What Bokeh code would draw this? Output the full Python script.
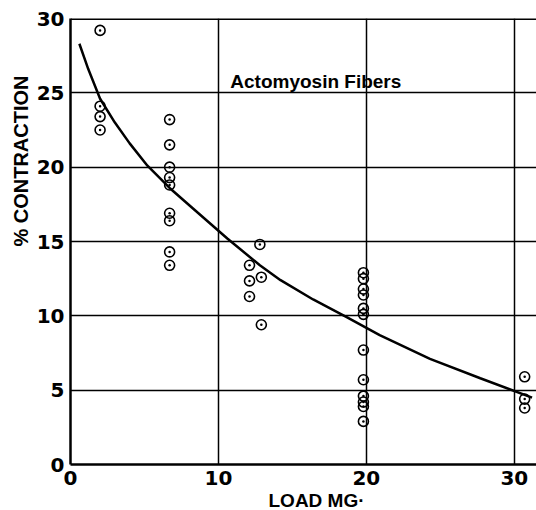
from bokeh.plotting import figure
from bokeh.models import Label, Span, FixedTicker, Range1d, Title
from bokeh.embed import file_html
from bokeh.resources import INLINE

# Measured points: load (mg) vs % contraction
load_mg = [2.0, 2.0, 2.0, 2.0,
           6.7, 6.7, 6.7, 6.7, 6.7, 6.7, 6.7, 6.7, 6.7,
           12.8, 12.1, 12.9, 12.1, 12.1, 12.9,
           19.8, 19.8, 19.8, 19.8, 19.8, 19.8, 19.8, 19.8, 19.8, 19.8, 19.8, 19.8,
           30.7, 30.7, 30.7]
contraction = [29.2, 24.1, 23.4, 22.5,
               23.2, 21.5, 20.0, 19.3, 18.8, 16.9, 16.4, 14.3, 13.4,
               14.8, 13.4, 12.6, 12.35, 11.3, 9.4,
               12.9, 12.5, 11.8, 11.4, 10.5, 10.1, 7.7, 5.7, 4.6, 4.2, 3.9, 2.9,
               5.9, 4.4, 3.8]

# Fitted curve
curve_x = [0.6, 1.2, 2.0, 3.0, 4.0, 5.2, 6.7, 8.3, 10.6, 12.8, 14.2, 16.4,
           18.7, 20.9, 24.3, 27.7, 31.2]
curve_y = [28.3, 26.6, 24.6, 23.0, 21.6, 20.1, 18.6, 17.2, 15.2, 13.4, 12.4, 11.1,
           9.9, 8.7, 7.1, 5.8, 4.5]

x_ticks = [0, 10, 20, 30]
y_ticks = [0, 5, 10, 15, 20, 25, 30]

p = figure(width=536, height=510, output_backend="svg", toolbar_location=None,
           x_range=Range1d(0, 31.5), y_range=Range1d(0, 30),
           min_border_left=70, min_border_right=0, min_border_top=18,
           min_border_bottom=45)
p.background_fill_color = "white"
p.border_fill_color = "white"
p.outline_line_color = None

tick_font = "DejaVu Sans"
for ax in (p.xaxis[0], p.yaxis[0]):
    ax.axis_line_color = "black"
    ax.axis_line_width = 2.5
    ax.major_tick_line_color = None
    ax.minor_tick_line_color = None
    ax.major_tick_out = 0
    ax.major_tick_in = 0
    ax.major_label_text_font = tick_font
    ax.major_label_text_font_style = "bold"
    ax.major_label_text_font_size = "20px"
    ax.major_label_text_color = "black"
p.xaxis[0].ticker = FixedTicker(ticks=x_ticks)
p.yaxis[0].ticker = FixedTicker(ticks=y_ticks)
p.xaxis[0].major_label_standoff = 6
p.yaxis[0].major_label_standoff = 6

p.xgrid[0].ticker = FixedTicker(ticks=x_ticks[1:])
p.ygrid[0].ticker = FixedTicker(ticks=y_ticks[1:-1])
for g in (p.xgrid[0], p.ygrid[0]):
    g.grid_line_color = "black"
    g.grid_line_width = 1.5

p.add_layout(Span(location=30, dimension="width", line_color="black", line_width=3))

p.line(curve_x, curve_y, line_color="black", line_width=2.5)
p.scatter(load_mg, contraction, marker="circle_dot", size=10, line_color="black",
          line_width=1.6, fill_alpha=0)

p.add_layout(Label(x=10.8, y=25.0, text="Actomyosin Fibers", text_font="Liberation Sans",
                   text_font_style="bold", text_font_size="19px", text_color="black",
                   text_baseline="bottom", y_offset=1))

p.add_layout(Title(text="% CONTRACTION", text_font="Liberation Sans",
                   text_font_style="bold", text_font_size="20px", text_color="black",
                   align="right", offset=57, standoff=4), "left")
p.add_layout(Title(text="LOAD  MG·", text_font="Liberation Sans",
                   text_font_style="bold", text_font_size="19px", text_color="black",
                   align="left", offset=198, standoff=0), "below")

open("out.html", "w").write(file_html(p, INLINE))
